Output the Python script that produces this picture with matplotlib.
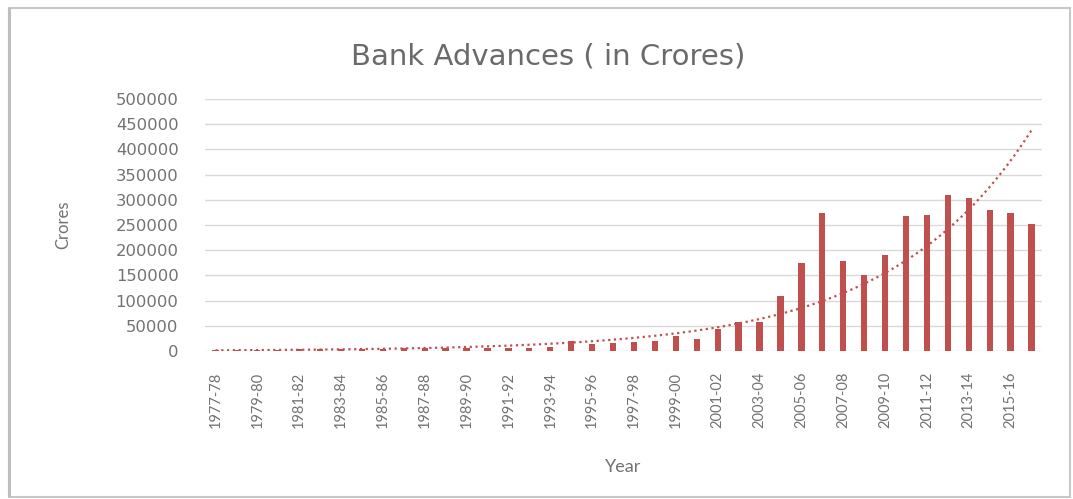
import numpy as np
import matplotlib.pyplot as plt
from matplotlib.patches import Rectangle

# fiscal years 1977-78 .. 2016-17
years = [f"{y}-{str(y + 1)[-2:]}" for y in range(1977, 2017)]

advances = [1900, 2100, 2400, 2700, 3000, 3300, 3700, 4100, 4500, 5000,
            5500, 6000, 6500, 6700, 6700, 6800, 8000, 20000, 13000, 15000,
            17000, 20000, 30000, 23000, 43000, 57000, 57000, 110000, 175000, 273000,
            178000, 151000, 191000, 267000, 270000, 310000, 303000, 280000, 273000, 251000]

bar_color = '#C0504D'
text_color = '#727272'

plt.rcParams['font.family'] = ['Lato', 'DejaVu Sans']

fig = plt.figure(figsize=(10.73, 4.99), dpi=100)
ax = fig.add_axes([205 / 1073, 1 - 351 / 499, (1042 - 205) / 1073, (351 - 99) / 499])

x = np.arange(len(years))
ax.bar(x, advances, width=0.3, color=bar_color, zorder=3)

# exponential trendline (least squares on log values, like Excel)
b, a = np.polyfit(x, np.log(advances), 1)
xs = np.linspace(0, len(years) - 1, 200)
ax.plot(xs, np.exp(a + b * xs), color=bar_color, lw=1.6,
        linestyle=(0, (1, 1.6)), zorder=4)

ax.set_xlim(-0.5, len(years) - 0.5)
ax.set_ylim(0, 500000)
ax.set_yticks(np.arange(0, 500001, 50000))
ax.set_xticks(x[::2])
ax.set_xticklabels(years[::2], rotation=90)
ax.grid(axis='y', color='#D9D9D9', lw=1, zorder=0)
for s in ax.spines.values():
    s.set_visible(False)
ax.tick_params(axis='both', length=0, colors=text_color)
ax.tick_params(axis='y', labelsize=11.8, pad=19)
ax.tick_params(axis='x', labelsize=10.5, pad=15)
for t in ax.get_yticklabels():
    t.set_family('DejaVu Sans')

ax.set_xlabel('Year', fontsize=13, color=text_color, labelpad=22)
ax.set_ylabel('Crores', fontsize=12, color=text_color, labelpad=32)
fig.text(548 / 1073, 1 - 57 / 499, 'Bank Advances ( in Crores)', ha='center',
         va='center', fontsize=21, color='#6A6A6A', family='DejaVu Sans')

fig.patches.append(Rectangle((9 / 1073, 2 / 499), 1061 / 1073, 489 / 499,
                             transform=fig.transFigure, fill=False,
                             edgecolor='#C8C8C8', lw=1.5))
fig.patches.append(Rectangle((8 / 1073, 2 / 499), 3 / 1073, 489 / 499,
                             transform=fig.transFigure, color='#BDBDBD', lw=0))

fig.savefig('out.png', dpi=100)
